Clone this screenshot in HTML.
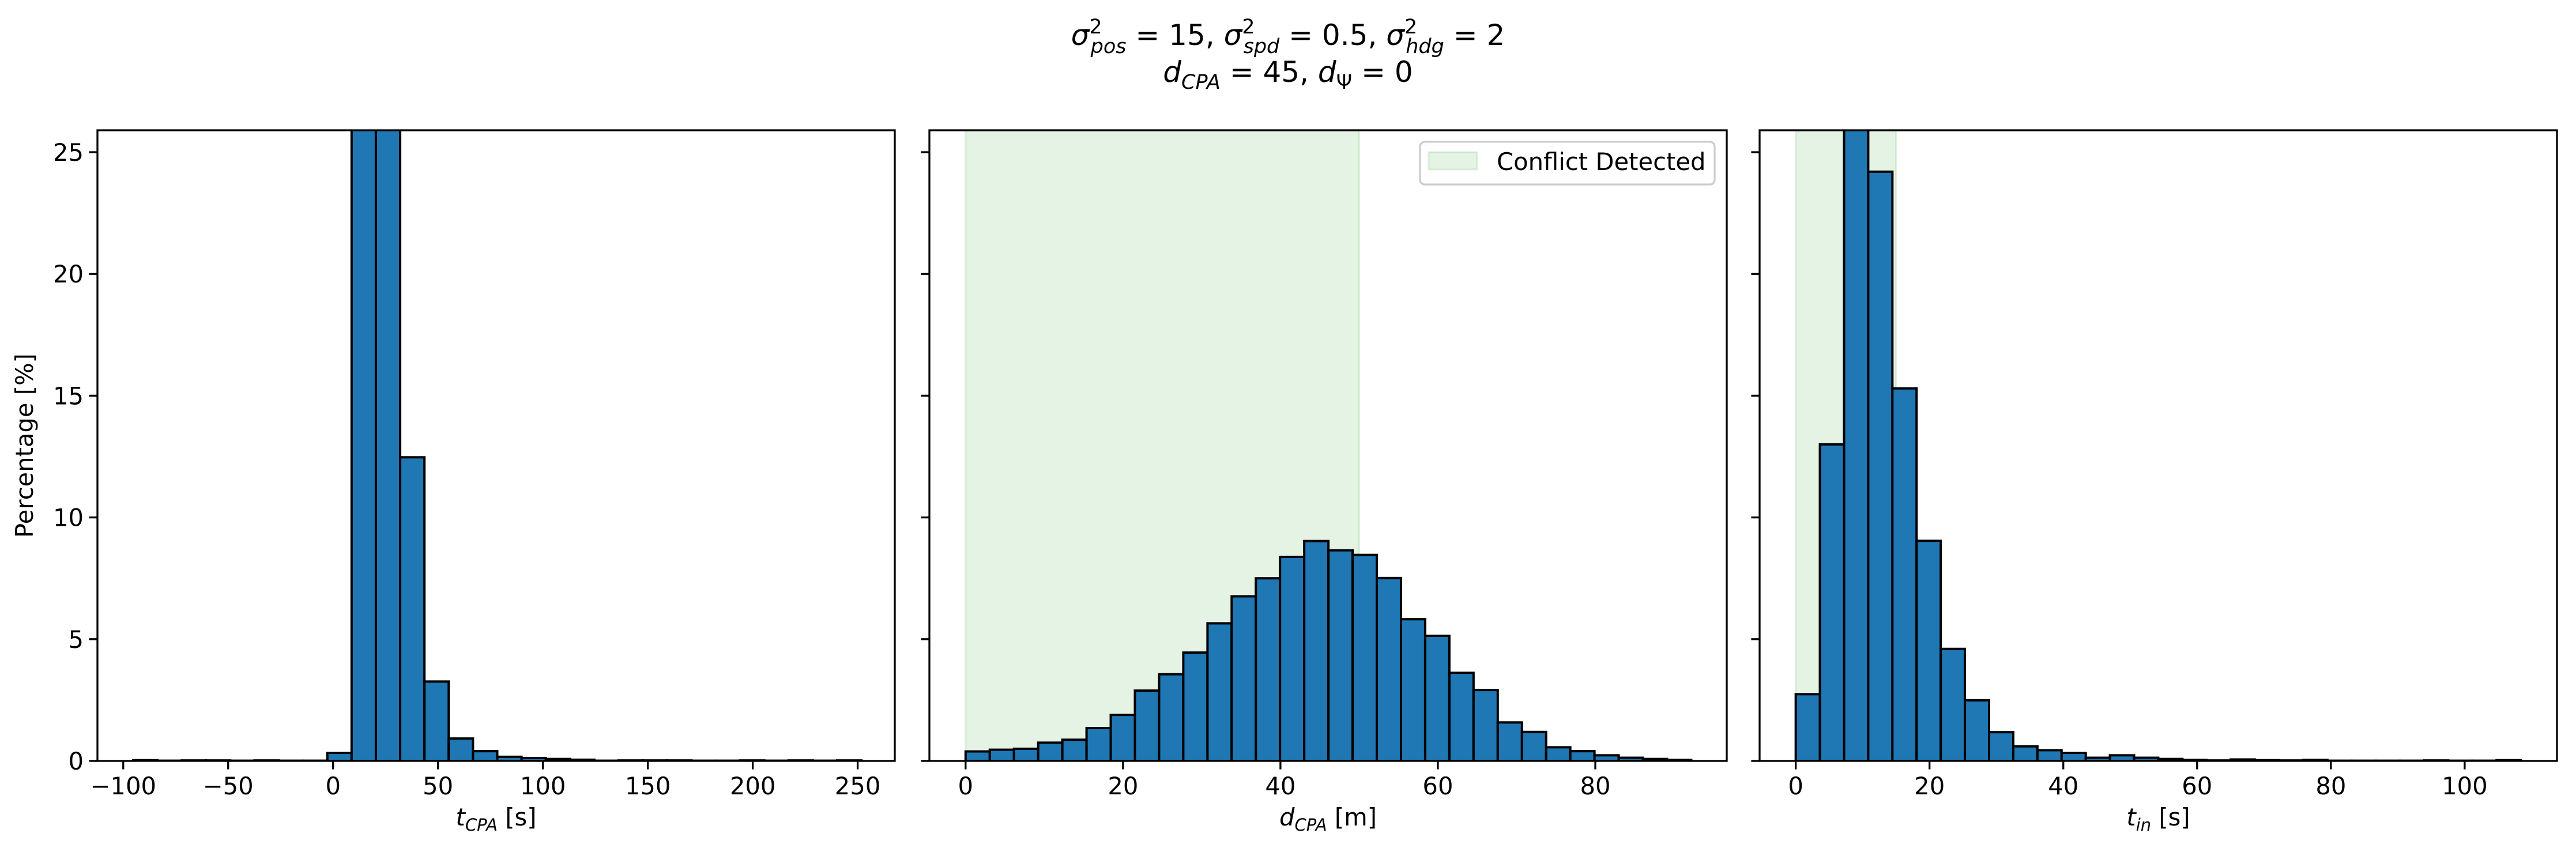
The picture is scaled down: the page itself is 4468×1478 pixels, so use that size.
<!DOCTYPE html>
<html><head><meta charset="utf-8"><style>
html,body{margin:0;padding:0;background:#fff;}
svg{display:block;font-family:"DejaVu Sans","Liberation Sans",sans-serif;}
</style></head><body>
<svg id="fig" width="4468" height="1478" viewBox="0 0 4468 1478" xmlns="http://www.w3.org/2000/svg">
<rect width="4468" height="1478" fill="#fff"/>
<text x="2234" y="78" font-size="50" text-anchor="middle"><tspan font-style="italic">σ</tspan><tspan font-size="35" dy="-20">2</tspan><tspan font-size="35" font-style="italic" dx="-20" dy="34">pos</tspan><tspan dy="-14"> = 15, </tspan><tspan font-style="italic">σ</tspan><tspan font-size="35" dy="-20">2</tspan><tspan font-size="35" font-style="italic" dx="-20" dy="34">spd</tspan><tspan dy="-14"> = 0.5, </tspan><tspan font-style="italic">σ</tspan><tspan font-size="35" dy="-20">2</tspan><tspan font-size="35" font-style="italic" dx="-20" dy="34">hdg</tspan><tspan dy="-14"> = 2</tspan></text>
<text x="2234" y="142" font-size="50" text-anchor="middle"><tspan font-style="italic">d</tspan><tspan font-size="35" font-style="italic" dy="12">CPA</tspan><tspan dy="-12"> = 45, </tspan><tspan font-style="italic">d</tspan><tspan font-size="35" dy="12">Ψ</tspan><tspan dy="-12"> = 0</tspan></text>
<g id="plots"></g>
</svg>
<script>
// Panel 1: t_CPA
const tcpaStart = -95.3, tcpaWidth = 11.57;
const tcpaValues = [0.03,0.01,0.02,0.02,0.01,0.02,0.01,0.01,0.33,30,28,12.47,3.26,0.92,0.4,0.17,0.12,0.08,0.05,0.01,0.02,0.02,0.02,0.01,0.01,0.02,0.01,0.02,0.01,0.02];
const tcpaTicks = [-100,-50,0,50,100,150,200,250];
const tcpaTickLabels = ["−100","−50","0","50","100","150","200","250"];
// Panel 2: d_CPA
const dcpaStart = 0, dcpaWidth = 3.073;
const dcpaValues = [0.39,0.46,0.5,0.75,0.87,1.35,1.89,2.89,3.56,4.45,5.65,6.76,7.5,8.38,9.03,8.65,8.46,7.51,5.82,5.14,3.62,2.91,1.58,1.19,0.56,0.4,0.23,0.13,0.08,0.04];
const dcpaTicks = [0,20,40,60,80];
const dcpaSpan = [0,50];
// Panel 3: t_in
const tinStart = 0, tinWidth = 3.613;
const tinValues = [2.74,13.0,26.5,24.2,15.3,9.04,4.6,2.49,1.18,0.6,0.44,0.33,0.13,0.23,0.13,0.08,0.04,0.02,0.06,0.03,0.02,0.04,0.01,0.01,0.01,0.01,0.02,0.01,0.01,0.03];
const tinTicks = [0,20,40,60,80,100];
const tinSpan = [0,15];
// shared y
const yTicks = [0,5,10,15,20,25];
const yMax = 25.9;

const NS = "http://www.w3.org/2000/svg";
const root = document.getElementById('plots');
function mk(tag, attrs, parent){const e=document.createElementNS(NS,tag);for(const k in attrs)e.setAttribute(k,attrs[k]);(parent||root).appendChild(e);return e;}

const top_=226, bot=1320;
function drawPanel(cfg){
  const g = mk('g',{});
  
  
  const X = v => cfg.x0 + (v-cfg.xmin)/(cfg.xmax-cfg.xmin)*(cfg.x1-cfg.x0);
  const Y = v => bot - v/yMax*(bot-top_);
  const clipId = 'clip'+cfg.name;
  const cp = mk('clipPath',{id:clipId},g);
  mk('rect',{x:cfg.x0,y:top_,width:cfg.x1-cfg.x0,height:bot-top_},cp);
  const inner = mk('g',{'clip-path':'url(#'+clipId+')'},g);
  if(cfg.span){
    const s = mk('rect',{x:X(cfg.span[0]),y:top_,width:X(cfg.span[1])-X(cfg.span[0]),height:bot-top_,fill:'#2ca02c','fill-opacity':0.12,stroke:'#2ca02c','stroke-opacity':0.15,'stroke-width':3},inner);
    
    
  }
  cfg.values.forEach((v,i)=>{
    const a = X(cfg.start+i*cfg.width), b = X(cfg.start+(i+1)*cfg.width);
    const r = mk('rect',{x:a,y:Y(v),width:b-a,height:bot-Y(v),fill:'#1f77b4',stroke:'#000','stroke-width':4},inner);
    
    
  });
  mk('rect',{x:cfg.x0,y:top_,width:cfg.x1-cfg.x0,height:bot-top_,fill:'none',stroke:'#000','stroke-width':3.3},g);
  cfg.ticks.forEach((t,i)=>{
    const x = X(t);
    mk('line',{x1:x,x2:x,y1:bot,y2:bot+14.6,stroke:'#000','stroke-width':3.3},g);
    const tx = mk('text',{x:x,y:bot+58,'font-size':41.7,'text-anchor':'middle'},g);
    tx.textContent = cfg.labels ? cfg.labels[i] : String(t);
    
    
  });
  yTicks.forEach(t=>{
    const y = Y(t);
    mk('line',{x1:cfg.x0-14.6,x2:cfg.x0,y1:y,y2:y,stroke:'#000','stroke-width':3.3},g);
    if(cfg.yLabels){
      const tx = mk('text',{x:cfg.x0-24,y:y+15,'font-size':41.7,'text-anchor':'end'},g);
      tx.textContent = String(t);
      
      
    }
  });
  const xl = mk('text',{x:(cfg.x0+cfg.x1)/2,y:1432,'font-size':41.7,'text-anchor':'middle'},g);
  
  
  xl.innerHTML = cfg.xlabel;
  return {X,Y,g};
}

const p1 = drawPanel({name:'tcpa-panel',x0:169,x1:1552,xmin:-112.3,xmax:267.7,start:tcpaStart,width:tcpaWidth,values:tcpaValues,ticks:tcpaTicks,labels:tcpaTickLabels,yLabels:true,
  xlabel:'<tspan font-style="italic">t</tspan><tspan font-style="italic" font-size="29" dy="9">CPA</tspan><tspan dy="-9"> [s]</tspan>'});
const p2 = drawPanel({name:'dcpa-panel',x0:1612,x1:2995,xmin:-4.6,xmax:96.7,start:dcpaStart,width:dcpaWidth,values:dcpaValues,ticks:dcpaTicks,span:dcpaSpan,
  xlabel:'<tspan font-style="italic">d</tspan><tspan font-style="italic" font-size="29" dy="9">CPA</tspan><tspan dy="-9"> [m]</tspan>'});
const p3 = drawPanel({name:'tin-panel',x0:3052,x1:4435,xmin:-5.4,xmax:113.8,start:tinStart,width:tinWidth,values:tinValues,ticks:tinTicks,span:tinSpan,
  xlabel:'<tspan font-style="italic">t</tspan><tspan font-style="italic" font-size="29" dy="9">in</tspan><tspan dy="-9"> [s]</tspan>'});

const yl = mk('text',{x:0,y:0,'font-size':41.7,'text-anchor':'middle',transform:'translate(57,773) rotate(-90)'});


yl.textContent = 'Percentage [%]';

// legend
const lg = mk('g',{});


mk('rect',{x:2463,y:246,width:511,height:74,rx:8,fill:'#fff','fill-opacity':0.8,stroke:'#ccc','stroke-width':3.3},lg);
mk('rect',{x:2478,y:264,width:84,height:30,fill:'#2ca02c','fill-opacity':0.12,stroke:'#2ca02c','stroke-opacity':0.15,'stroke-width':3},lg);
const lt = mk('text',{x:2596,y:295,'font-size':41.7},lg);


lt.textContent = 'Conflict Detected';
</script>
</body></html>
